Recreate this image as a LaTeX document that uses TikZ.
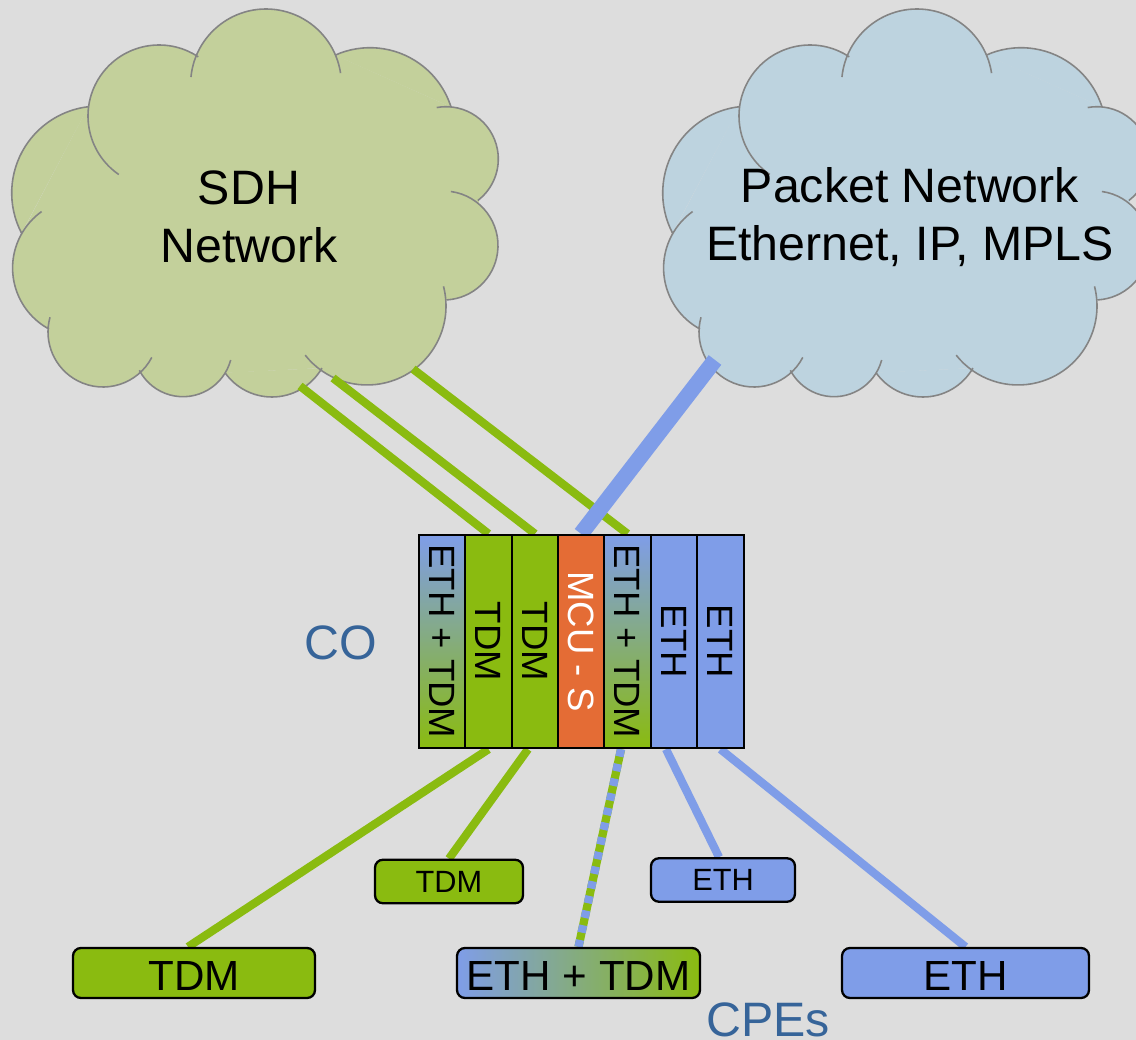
\documentclass[tikz,border=0pt]{standalone}
\usepackage{fontspec}
\setmainfont{Liberation Sans}
\usetikzlibrary{calc}
\usetikzlibrary{backgrounds}
\definecolor{tdmgreen}{HTML}{8ABB10}
\definecolor{ethblue}{HTML}{7F9DE8}
\definecolor{mcuorange}{HTML}{E46C35}
\definecolor{cloudgreen}{HTML}{C3D09B}
\definecolor{cloudblue}{HTML}{BDD3DF}
\definecolor{cloudline}{HTML}{848484}
\definecolor{sitelabel}{HTML}{366499}
\definecolor{backdrop}{HTML}{DDDDDD}
\providecommand\lobe[5]{([shift={(#1,#2)}]#4:#3) arc[radius=#3, start angle=#4, end angle=#5]}
\providecommand\cloudlobes{%
    \lobe{266}{84.4}{75.4}{185.6}{351.4}
    \lobe{370}{132.7}{85}{245.75}{342.4}
    \lobe{446}{159}{52.3}{259.8}{412.5}
    \lobe{443.5}{245.5}{54.5}{277.8}{446.3}
    \lobe{367}{306}{79}{-14.4}{141.5}
    \lobe{272}{339.4}{57.6}{29.9}{144.8}
    \lobe{183}{347.4}{49.3}{14.8}{152.3}
    \lobe{103}{332}{55}{27.5}{195.5}
    \lobe{82}{268}{69.4}{118.4}{234.4}
    \lobe{98.6}{193}{86.9}{152.5}{263.2}
    \lobe{159}{116}{71}{124.5}{303.6}
}
\tikzset{
    card/.style = {rectangle, draw = black, line width = 1.4pt, rotate = -90, inner sep = 0pt,
        minimum width = 4.26cm, minimum height = 0.93cm,
        font = \fontsize{20.8}{24}\selectfont},
    cardmix/.style = {card, top color = ethblue, bottom color = tdmgreen},
    cpe/.style = {rectangle, draw = black, line width = 1.3pt, rounded corners = 4.5pt, inner sep = 0pt},
    cpesmall/.style = {cpe, minimum height = 0.87cm, font = \fontsize{17.5}{21}\selectfont},
    cpelarge/.style = {cpe, minimum height = 1cm, text height = 19.4pt, text depth = 0pt,
        font = \fontsize{24}{29}\selectfont},
    cloudtext/.style = {align = center, font = \fontsize{27.5}{33}\selectfont},
    sitetext/.style = {text = sitelabel, font = \fontsize{27.5}{33}\selectfont},
    tdmline/.style = {draw = tdmgreen, line width = 4.7pt},
    ethline/.style = {draw = ethblue, line width = 4.7pt},
}

\begin{document}
\begin{tikzpicture}[%
        x = 0.02cm,
        y = -0.02cm,
        ]

\useasboundingbox (0,0) rectangle (1136,1040);


\begin{scope}[on background layer]
\fill[backdrop] (0,0) rectangle (1136,1040);
\clip (0,0) rectangle (1136,1040);
\foreach \COLOR/\SHIFT in {cloudgreen/0,cloudblue/651}{
    \begin{scope}[shift = {(\SHIFT,0)}]
    \fill[\COLOR] \cloudlobes;
    \fill[\COLOR] (197,58) -- (335,55) -- (451,107) -- (479,202) -- (447,300) -- (322,368)
        -- (224,373) -- (140,370) -- (49,329) -- (22,233) -- (88,107) -- cycle;
    \draw[cloudline, line width = 0.9pt] \cloudlobes;
    \end{scope}
    }
\end{scope}

\node (sdh) [cloudtext] at (249,217) {SDH\\Network};
\node (packet) [cloudtext] at (910,217.5) {Packet Network\\Ethernet, IP, MPLS};

\coordinate (sdhA) at (300,386);
\coordinate (sdhB) at (333,378);
\coordinate (sdhC) at (413,369);
\coordinate (packetA) at (715,360);


\node (carda) [cardmix] at (442,641.5) {ETH + TDM};
\node (cardb) [card, fill = tdmgreen] at (488.5,641.5) {TDM};
\node (cardc) [card, fill = tdmgreen] at (535,641.5) {TDM};
\node (cardd) [card, fill = mcuorange, text = white] at (581,641.5) {MCU - S};
\node (carde) [cardmix] at (627.5,641.5) {ETH + TDM};
\node (cardf) [card, fill = ethblue] at (674,641.5) {ETH};
\node (cardg) [card, fill = ethblue] at (720.5,641.5) {ETH};

\node (co) [sitetext] at (341,643) {CO};
\node (cpes) [sitetext] at (768,1020) {CPEs};


\node (tdmsmall) [cpesmall, fill = tdmgreen, minimum width = 2.96cm] at (449,881.5) {TDM};
\node (ethsmall) [cpesmall, fill = ethblue, minimum width = 2.88cm] at (723,880) {ETH};
\node (tdmlarge) [cpelarge, fill = tdmgreen, minimum width = 4.84cm] at (194,973) {TDM};
\node (mixlarge) [cpelarge, left color = ethblue, right color = tdmgreen, minimum width = 4.86cm] at (578.5,973) {ETH + TDM};
\node (ethlarge) [cpelarge, fill = ethblue, minimum width = 4.94cm] at (965.5,973) {ETH};


\begin{scope}[on background layer]
\draw[tdmline] (sdhA) -- (cardb.west);
\draw[tdmline] (sdhB) -- (cardc.west);
\draw[tdmline] (sdhC) -- (carde.west);
\draw[ethline, line width = 9pt] (packetA) -- (cardd.west);

\draw[tdmline] (cardb.east) -- ([xshift = -0.12cm]tdmlarge.north);
\draw[tdmline] ([xshift = -0.14cm]cardc.east) -- (tdmsmall.north);
\draw[tdmline] ([xshift = -0.13cm]carde.east) -- (mixlarge.north);
\draw[ethline, dash pattern = on 4.27pt off 4.27pt] ([xshift = -0.13cm]carde.east) -- (mixlarge.north);
\draw[ethline] ([xshift = -0.16cm]cardf.east) -- ([xshift = -0.08cm]ethsmall.north);
\draw[ethline] (cardg.east) -- (ethlarge.north);
\end{scope}

\end{tikzpicture}
\end{document}
